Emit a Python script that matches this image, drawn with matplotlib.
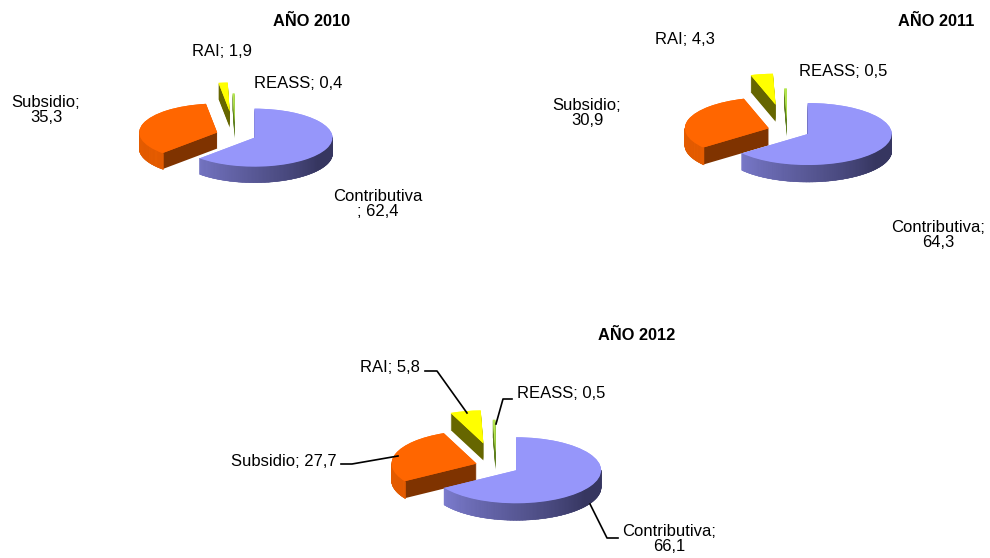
import numpy as np
import matplotlib
matplotlib.use('Agg')
import matplotlib.pyplot as plt
from matplotlib.colors import to_rgb

plt.rcParams['font.family'] = ['Liberation Sans', 'DejaVu Sans']

W, H = 990, 558

categories = ['Contributiva', 'Subsidio', 'RAI', 'REASS']
values_2010 = [62.4, 35.3, 1.9, 0.4]
values_2011 = [64.3, 30.9, 4.3, 0.5]
values_2012 = [66.1, 27.7, 5.8, 0.5]
titles = ['AÑO 2010', 'AÑO 2011', 'AÑO 2012']

top_colors = ['#9696FA', '#FF6600', '#FFFF00', '#B4E650']
cut_colors = ['#5A5A99', '#7F3300', '#666600', '#5F7F20']

fig = plt.figure(figsize=(W / 100, H / 100), dpi=100, facecolor='white')


def side_color(i, frac):
    # curved edge shading, frac runs 0 (left) to 1 (right)
    if i == 0:
        a, b = np.array(to_rgb('#9090EE')), np.array(to_rgb('#363660'))
        return tuple(a + (b - a) * min(frac * 1.25, 1))
    if i == 1:
        return '#E55C00'
    return cut_colors[i]


def pie3d(values, cx, cy, rx, ry, depth, explode):
    ax = fig.add_axes([0, 0, 1, 1])
    ax.patch.set_alpha(0)
    # extruded body: same pie repeated downwards
    for k in np.arange(depth, 0, -1.0):
        ax.pie(values, explode=explode, colors=cut_colors, startangle=90,
               counterclock=False, center=(0, -k / ry), radius=1,
               normalize=True)
    # curved outer edge
    body = ax.pie(values, explode=explode, colors=top_colors, startangle=90,
                  counterclock=False, radius=1, normalize=True)[0]
    for i, w in enumerate(body):
        x0, y0 = w.center
        t1, t2 = w.theta1 % 360, w.theta2 % 360
        if t2 <= t1:
            t2 += 360
        for t in np.arange(np.floor(t1), t2, 1.0):
            for shift in (0, 360):
                a = t + shift
                if 180 <= a < 360:
                    xs = x0 + np.cos(np.radians([a, a + 1.5, a + 1.5, a]))
                    ys = y0 + np.sin(np.radians([a, a + 1.5, a + 1.5, a]))
                    ys[2:] -= depth / ry
                    ax.fill(xs, ys, color=side_color(i, (a - 180) / 180), lw=0.3, zorder=3)
    # top face again above the edge strips
    top = ax.pie(values, explode=explode, colors=top_colors, startangle=90,
                 counterclock=False, radius=1, normalize=True)[0]
    for w in top:
        w.set_zorder(4)
    ax.set_aspect('auto')
    ax.set_xlim(-cx / rx, (W - cx) / rx)
    ax.set_ylim((cy - H) / ry, cy / ry)
    ax.axis('off')


pie3d(values_2010, 235, 134.7, 78, 29, 16, [0.27, 0.24, 0.80, 0.42])
pie3d(values_2011, 787.3, 130.4, 84, 31, 17, [0.27, 0.23, 0.84, 0.35])
pie3d(values_2012, 496, 466, 85, 33, 17, [0.27, 0.24, 0.70, 0.40])

# labels and leader lines in pixel coordinates
over = fig.add_axes([0, 0, 1, 1])
over.patch.set_alpha(0)
over.set_xlim(0, W)
over.set_ylim(H, 0)
over.axis('off')


def lab(x, y, s):
    over.text(x, y, s, ha='center', va='center', fontsize=12, color='black', linespacing=1.05)


def fmt(v):
    return str(v).replace('.', ',')


over.text(311.5, 21, titles[0], ha='center', va='center', fontsize=11.8, fontweight='bold')
over.text(936, 22, titles[1], ha='center', va='center', fontsize=11.8, fontweight='bold')
over.text(637, 335, titles[2], ha='center', va='center', fontsize=11.8, fontweight='bold')

lab(222, 52, categories[2] + '; ' + fmt(values_2010[2]))
lab(298, 84, categories[3] + '; ' + fmt(values_2010[3]))
lab(46, 110, categories[1] + ';\n' + fmt(values_2010[1]))
lab(378, 204, categories[0] + '\n; ' + fmt(values_2010[0]))

lab(685, 39, categories[2] + '; ' + fmt(values_2011[2]))
lab(843, 72, categories[3] + '; ' + fmt(values_2011[3]))
lab(587, 113, categories[1] + ';\n' + fmt(values_2011[1]))
lab(938, 235, categories[0] + ';\n' + fmt(values_2011[0]))

lab(390, 367, categories[2] + '; ' + fmt(values_2012[2]))
lab(561, 394, categories[3] + '; ' + fmt(values_2012[3]))
lab(284, 461, categories[1] + '; ' + fmt(values_2012[1]))
lab(669, 539, categories[0] + ';\n' + fmt(values_2012[0]))

over.plot([425, 437, 467], [371, 371, 413], color='black', lw=1.2)
over.plot([512, 503, 496], [399, 399, 424], color='black', lw=1.2)
over.plot([341, 352, 398], [464, 464, 456], color='black', lw=1.2)
over.plot([590, 607, 618], [504, 538, 538], color='black', lw=1.2)

fig.savefig('out.png', dpi=100)
